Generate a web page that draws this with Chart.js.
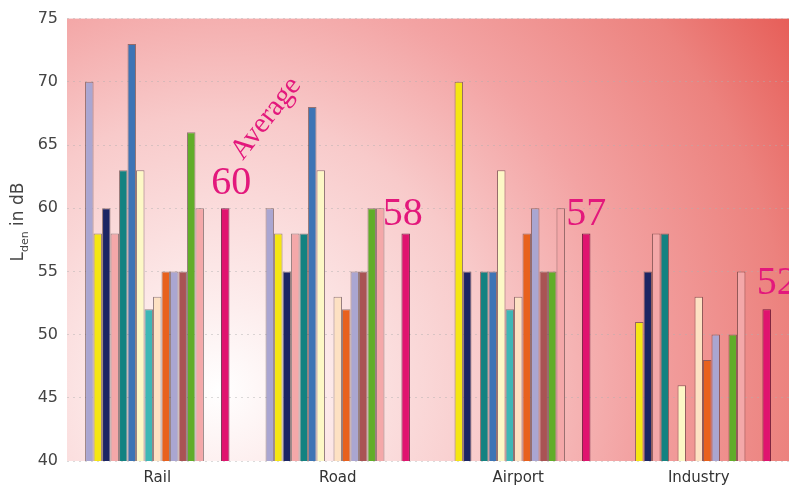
<!DOCTYPE html>
<html>
<head>
<meta charset="utf-8">
<script src="https://cdn.jsdelivr.net/npm/chart.js@4/dist/chart.umd.min.js"></script>
<style>
  html, body { margin: 0; padding: 0; background: #fff; }
  #wrap { width: 789px; height: 489px; }
</style>
</head>
<body>
<div id="wrap"><canvas id="chart" width="789" height="489"></canvas></div>
<script>
// categories
const categories = ['Rail', 'Road', 'Airport', 'Industry']

// one array per study, values per category (null = no bar)
const study1 = [70, 60, null, null]
const study2 = [58, 58, 70, 51]
const study3 = [60, 55, 55, 55]
const study4 = [58, 58, null, 58]
const study5 = [63, 58, 55, 58]
const study6 = [73, 68, 55, null]
const study7 = [63, 63, 63, 46]
const study8 = [52, null, 52, null]
const study9 = [53, 53, 53, 53]
const study10 = [55, 52, 58, 48]
const study11 = [55, 55, 60, 50]
const study12 = [55, 55, 55, null]
const study13 = [66, 60, 55, 50]
const study14 = [60, 60, 60, 55]
const average = [60, 58, 58, 52]
const averageText = ['60', '58', '57', '52']

const yTicks = [40, 45, 50, 55, 60, 65, 70, 75]

const studies = [study1, study2, study3, study4, study5, study6, study7,
  study8, study9, study10, study11, study12, study13, study14]
const colors = ['#aaa6d1', '#f5e612', '#1c2563', '#f4a8a9', '#138281',
  '#3d74b5', '#fdf8c6', '#3db7b6', '#fde1c3', '#e8611d', '#aaa6d1',
  '#a95354', '#61ad29', '#f4a8a9']

let datasets = studies.map((d, i) => ({
  label: 'Study ' + (i + 1),
  data: d,
  backgroundColor: colors[i],
  borderColor: 'rgba(70,45,45,0.55)',
  borderWidth: 1,
}))
// two empty slots before the average bar
datasets.push({ label: '', data: [null, null, null, null] })
datasets.push({ label: '', data: [null, null, null, null] })
datasets.push({
  label: 'Average',
  data: average,
  backgroundColor: '#e0136f',
  borderColor: 'rgba(90,0,40,0.8)',
  borderWidth: 1,
})

// radial pink background inside the plot area
const bgPlugin = {
  id: 'bg',
  beforeDraw(chart) {
    const { ctx, chartArea: a } = chart
    const cx = a.left + 0.21 * (a.right - a.left)
    const cy = a.top + 0.84 * (a.bottom - a.top)
    const g = ctx.createRadialGradient(cx, cy, 0, cx, cy, 690)
    g.addColorStop(0, '#ffffff')
    g.addColorStop(0.12, '#fdeeee')
    g.addColorStop(0.4, '#f8caca')
    g.addColorStop(0.6, '#f3a3a3')
    g.addColorStop(0.83, '#ec827e')
    g.addColorStop(1, '#e65b55')
    ctx.save()
    ctx.fillStyle = g
    ctx.fillRect(a.left, a.top, a.right - a.left, a.bottom - a.top)
    ctx.restore()
  },
}

// average numbers, "Average" caption and y axis title with subscript
const labelPlugin = {
  id: 'labels',
  afterDatasetsDraw(chart) {
    const ctx = chart.ctx
    const y = chart.scales.y
    const meta = chart.getDatasetMeta(chart.data.datasets.length - 1)
    const place = [
      { dx: 6, v: 61.1 },
      { dx: -3, v: 58.7 },
      { dx: 0, v: 58.7 },
      { dx: 10, v: 53.2 },
    ]
    ctx.save()
    ctx.fillStyle = '#e3187c'
    ctx.font = '40px "Liberation Serif"'
    ctx.textAlign = 'center'
    ctx.textBaseline = 'alphabetic'
    meta.data.forEach((bar, i) => {
      ctx.fillText(averageText[i], bar.x + place[i].dx, y.getPixelForValue(place[i].v))
    })
    ctx.translate(meta.data[0].x + 41, y.getPixelForValue(67.1))
    ctx.rotate(-52 * Math.PI / 180)
    ctx.font = '29px "Liberation Serif"'
    ctx.textBaseline = 'middle'
    ctx.fillText('Average', 0, 0)
    ctx.restore()

    // y axis title
    ctx.save()
    ctx.translate(19, 222)
    ctx.rotate(-Math.PI / 2)
    ctx.fillStyle = '#444'
    ctx.textBaseline = 'middle'
    ctx.font = '17px "DejaVu Sans"'
    const w1 = ctx.measureText('L').width
    ctx.font = '11px "DejaVu Sans"'
    const w2 = ctx.measureText('den').width
    ctx.font = '17px "DejaVu Sans"'
    const w3 = ctx.measureText(' in dB').width
    let x0 = -(w1 + w2 + w3) / 2
    ctx.fillText('L', x0, 0)
    ctx.font = '11px "DejaVu Sans"'
    ctx.fillText('den', x0 + w1, 6)
    ctx.font = '17px "DejaVu Sans"'
    ctx.fillText(' in dB', x0 + w1 + w2, 0)
    ctx.restore()
  },
}

new Chart(document.getElementById('chart'), {
  type: 'bar',
  data: { labels: categories, datasets: datasets },
  options: {
    responsive: false,
    animation: false,
    layout: { padding: { top: 15, right: 0, bottom: 0, left: 0 } },
    datasets: { bar: { categoryPercentage: 0.8, barPercentage: 1.0 } },
    plugins: { legend: { display: false }, tooltip: { enabled: false } },
    scales: {
      x: {
        grid: { display: false },
        border: { display: false },
        ticks: { color: '#333', font: { family: 'DejaVu Sans', size: 15 }, padding: 0 },
        afterFit(s) { s.height = 28 },
      },
      y: {
        min: 40,
        max: 75,
        afterBuildTicks(s) { s.ticks = yTicks.map((v) => ({ value: v })) },
        grid: { color: 'rgba(175,175,175,0.45)', lineWidth: 1, drawTicks: false },
        border: { display: false, dash: [2, 4] },
        ticks: { color: '#444', font: { family: 'DejaVu Sans', size: 16 }, padding: 9 },
        afterFit(s) { s.width = 67 },
      },
    },
  },
  plugins: [bgPlugin, labelPlugin],
})
</script>
</body>
</html>
